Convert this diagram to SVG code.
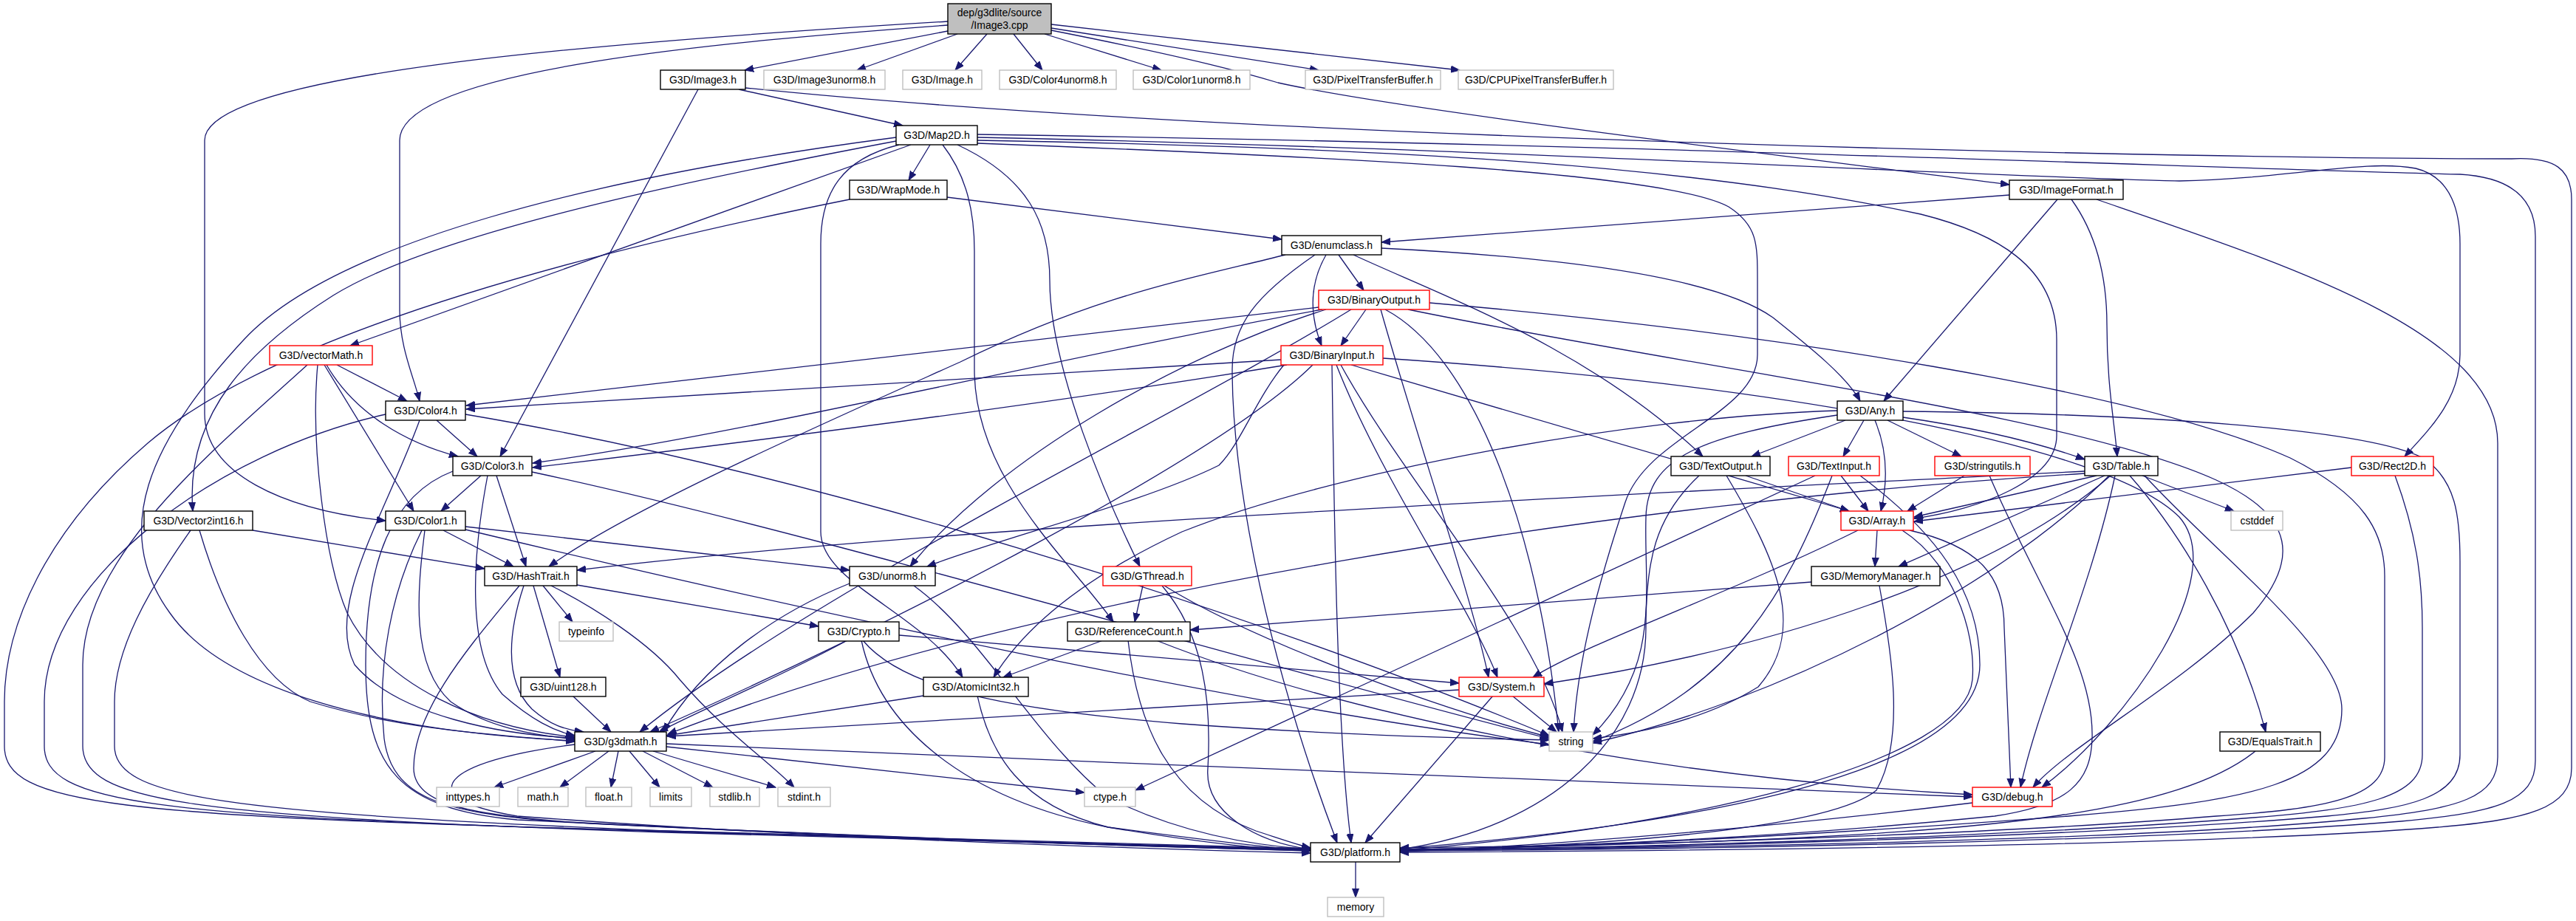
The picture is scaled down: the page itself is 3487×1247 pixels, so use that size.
<svg xmlns="http://www.w3.org/2000/svg" width="3487" height="1247" viewBox="0 0 3487 1247">
<style>
.e{fill:none;stroke:#191970;stroke-width:1.3;marker-end:url(#ah)}
.n{fill:#fff;stroke:#000;stroke-width:1.4}
.r{fill:#fff;stroke:#ff0000;stroke-width:1.4}
.g{fill:#fff;stroke:#bfbfbf;stroke-width:1.4}
.m{fill:#bfbfbf;stroke:#000;stroke-width:1.4}
.t{font-family:"Liberation Sans",Arial,sans-serif;font-size:14px;text-anchor:middle;fill:#000}
</style>
<defs>
<marker id="ah" markerUnits="userSpaceOnUse" markerWidth="14" markerHeight="12" refX="12" refY="5" orient="auto">
<path d="M0,0.5 L12,5 L0,9.5 Z" fill="#191970" stroke="#191970" stroke-width="1"/>
</marker>
</defs>
<rect width="3487" height="1247" fill="#fff"/>
<g id="connectors">
<path class="e" d="M1283,42 L1008,95"/>
<path class="e" d="M1296,46 L1160,95"/>
<path class="e" d="M1336,46 L1293,95"/>
<path class="e" d="M1372,46 L1411,95"/>
<path class="e" d="M1414,46 L1572,95"/>
<path class="e" d="M1423,38 L1785,95"/>
<path class="e" d="M1423,33 L1976,95"/>
<path class="e" d="M1423,41 C1620,80 1690,100 1730,112 C1900,150 2450,215 2720,250"/>
<path class="e" d="M1283,29 C800,58 277,100 277,190 L277,560 C277,640 380,690 522,705"/>
<path class="e" d="M1283,34 C1000,55 541,92 541,190 L541,420 C541,470 560,510 568,543"/>
<path class="e" d="M1000,121 L1222,170"/>
<path class="e" d="M945,121 L677,618"/>
<path class="e" d="M1009,119 C1700,190 3000,215 3400,215 C3460,212 3481,230 3481,270 L3481,1040 C3481,1095 3420,1110 3300,1120 C3000,1145 2300,1152 1895,1154"/>
<path class="e" d="M1259,196 L1230,244"/>
<path class="e" d="M1233,196 L474,468"/>
<path class="e" d="M1213,191 C900,250 580,320 451,400 C340,470 250,560 261,692"/>
<path class="e" d="M1213,186 C800,240 450,330 330,460 C200,600 150,720 230,830 C300,930 500,990 778,1003"/>
<path class="e" d="M1217,196 C1140,215 1111,260 1111,330 L1111,720 C1111,790 1250,830 1303,917"/>
<path class="e" d="M1276,196 C1310,240 1319,290 1319,340 L1319,500 C1319,650 1450,760 1507,842"/>
<path class="e" d="M1296,196 C1390,240 1421,300 1421,380 C1421,500 1500,680 1543,767"/>
<path class="e" d="M1323,186 C2000,200 2700,240 2950,245 C3100,242 3200,215 3270,228 C3320,240 3330,290 3330,330 L3330,480 C3330,540 3290,580 3255,618"/>
<path class="e" d="M1323,182 C2200,195 3000,228 3330,236 C3400,240 3432,270 3432,320 L3432,1030 C3432,1085 3380,1100 3250,1112 C2900,1140 2300,1150 1895,1152"/>
<path class="e" d="M1323,190 C1900,200 2300,225 2600,290 C2700,315 2784,360 2784,460 L2784,590 C2784,650 2680,690 2591,702"/>
<path class="e" d="M1323,194 C1800,212 2250,232 2340,280 C2379,305 2379,330 2379,380 L2379,480 C2379,560 2230,590 2200,680 C2160,800 2135,900 2130,991"/>
<path class="e" d="M1282,267 L1735,324"/>
<path class="e" d="M1150,270 C900,320 400,430 200,600 C60,720 6,850 6,950 L6,1010 C6,1090 150,1105 900,1125 C1300,1135 1600,1145 1774,1149"/>
<path class="e" d="M2720,264 L1870,328"/>
<path class="e" d="M2785,270 L2550,543"/>
<path class="e" d="M2804,270 C2840,320 2852,380 2852,440 C2852,520 2862,570 2866,618"/>
<path class="e" d="M2838,270 C3100,360 3381,450 3381,600 L3381,1025 C3381,1080 3330,1095 3200,1108 C2900,1138 2300,1148 1895,1151"/>
<path class="e" d="M1812,345 L1846,393"/>
<path class="e" d="M1795,345 C1775,380 1770,420 1789,468"/>
<path class="e" d="M1740,345 C1600,380 1484,400 1300,490 C1100,580 850,690 743,767"/>
<path class="e" d="M1832,345 C1950,400 2150,470 2305,618"/>
<path class="e" d="M1870,336 C2150,350 2330,380 2400,430 C2450,470 2500,510 2518,543"/>
<path class="e" d="M1780,345 C1700,400 1668,440 1668,500 C1668,620 1700,850 1810,1141"/>
<path class="e" d="M1849,419 L1815,468"/>
<path class="e" d="M1785,416 L631,549"/>
<path class="e" d="M1790,419 C1450,480 1000,590 721,627"/>
<path class="e" d="M1795,419 C1600,480 1350,620 1232,767"/>
<path class="e" d="M1829,419 C1600,560 1100,800 866,991"/>
<path class="e" d="M1869,419 C1920,600 1990,800 2015,917"/>
<path class="e" d="M1875,419 C1990,480 2080,700 2110,991"/>
<path class="e" d="M1906,419 C2300,500 2800,560 3000,650 C3110,700 3110,760 3050,830 C2950,930 2800,1010 2752,1066"/>
<path class="e" d="M1935,410 C2400,450 2900,530 3100,620 C3200,670 3228,720 3228,780 L3228,1025 C3228,1080 3150,1095 3000,1105 C2700,1130 2200,1145 1895,1148"/>
<path class="e" d="M1734,487 L631,554"/>
<path class="e" d="M1742,494 C1400,550 1000,600 721,633"/>
<path class="e" d="M1738,494 C1700,540 1680,600 1650,630 C1550,680 1350,730 1255,767"/>
<path class="e" d="M1777,494 C1650,620 1200,850 880,991"/>
<path class="e" d="M1803,494 C1806,700 1810,1000 1829,1141"/>
<path class="e" d="M1809,494 C1870,650 1990,820 2027,917"/>
<path class="e" d="M1815,494 C1900,650 2080,850 2115,991"/>
<path class="e" d="M1829,494 L2503,692"/>
<path class="e" d="M1872,485 C2400,520 2850,600 2950,700 C3020,780 2880,980 2764,1066"/>
<path class="e" d="M456,494 L551,543"/>
<path class="e" d="M442,494 C480,560 550,600 620,618"/>
<path class="e" d="M439,494 L560,692"/>
<path class="e" d="M430,494 C420,600 440,760 470,830 C520,930 650,985 778,998"/>
<path class="e" d="M416,494 C300,600 112,750 112,900 L112,1010 C112,1085 250,1105 900,1127 C1300,1140 1600,1147 1774,1151"/>
<path class="e" d="M591,569 L646,618"/>
<path class="e" d="M522,561 C300,610 60,780 60,950 L60,1010 C60,1088 200,1105 900,1126 C1300,1138 1600,1146 1774,1150"/>
<path class="e" d="M568,569 C520,700 440,820 480,900 C540,970 680,995 778,999"/>
<path class="e" d="M630,561 C1100,640 1700,830 2097,996"/>
<path class="e" d="M651,644 L597,692"/>
<path class="e" d="M672,644 L712,767"/>
<path class="e" d="M720,639 C1100,720 1700,900 2097,1000"/>
<path class="e" d="M613,638 C530,670 495,760 495,900 C495,1040 540,1095 700,1110 C1100,1130 1500,1145 1774,1152"/>
<path class="e" d="M660,644 C640,750 630,880 680,940 C720,975 750,990 778,996"/>
<path class="e" d="M600,718 L695,767"/>
<path class="e" d="M630,713 L1150,772"/>
<path class="e" d="M630,717 C1100,830 1700,960 2097,1008"/>
<path class="e" d="M571,718 C530,800 510,900 520,1000 C530,1080 600,1100 750,1112 C1100,1130 1500,1145 1774,1150"/>
<path class="e" d="M575,718 C565,800 555,900 610,950 C660,985 720,995 778,1001"/>
<path class="e" d="M342,718 L656,770"/>
<path class="e" d="M270,718 C300,820 350,920 420,950 C550,990 680,995 778,1004"/>
<path class="e" d="M258,718 C200,800 155,880 155,950 L155,1010 C155,1080 300,1100 900,1125 C1300,1138 1600,1146 1774,1152"/>
<path class="e" d="M709,793 C690,850 680,920 720,960 C745,982 765,988 790,991"/>
<path class="e" d="M703,793 C640,870 560,960 560,1040 C560,1090 640,1105 800,1115 C1150,1132 1500,1146 1774,1151"/>
<path class="e" d="M722,793 L758,917"/>
<path class="e" d="M735,793 L775,842"/>
<path class="e" d="M746,793 C800,820 880,870 920,920 C980,990 1040,1030 1075,1066"/>
<path class="e" d="M781,792 L1108,848"/>
<path class="e" d="M775,942 L827,991"/>
<path class="e" d="M806,1017 L669,1066"/>
<path class="e" d="M824,1017 L758,1066"/>
<path class="e" d="M837,1017 L827,1066"/>
<path class="e" d="M852,1017 L893,1066"/>
<path class="e" d="M870,1017 L965,1066"/>
<path class="e" d="M884,1017 L1050,1066"/>
<path class="e" d="M902,1011 L1468,1073"/>
<path class="e" d="M902,1007 C1500,1035 2300,1060 2670,1079"/>
<path class="e" d="M778,1008 C600,1030 550,1080 700,1105 C1100,1135 1500,1148 1774,1155"/>
<path class="e" d="M1147,867 C1050,920 950,960 892,991"/>
<path class="e" d="M1166,867 C1190,980 1300,1080 1500,1120 C1650,1140 1720,1148 1774,1152"/>
<path class="e" d="M1168,867 C1220,930 1350,960 1600,980 C1800,995 2000,1000 2097,1002"/>
<path class="e" d="M1217,860 L1975,925"/>
<path class="e" d="M1250,942 L902,996"/>
<path class="e" d="M1323,942 C1340,1020 1380,1090 1500,1120 C1650,1145 1720,1150 1774,1152"/>
<path class="e" d="M1493,867 L1358,917"/>
<path class="e" d="M1527,867 C1540,980 1580,1080 1700,1125 C1740,1138 1760,1145 1774,1148"/>
<path class="e" d="M1565,867 C1800,960 2200,1050 2670,1076"/>
<path class="e" d="M1547,793 L1536,842"/>
<path class="e" d="M1573,793 C1630,860 1640,950 1635,1040 C1630,1100 1700,1140 1774,1150"/>
<path class="e" d="M1576,793 C1700,870 1950,960 2097,998"/>
<path class="e" d="M1150,790 C1050,830 950,900 898,991"/>
<path class="e" d="M1237,793 C1330,860 1400,1000 1500,1080 C1600,1130 1700,1145 1774,1150"/>
<path class="e" d="M2498,569 L2371,618"/>
<path class="e" d="M2523,569 L2495,618"/>
<path class="e" d="M2538,569 C2555,610 2556,650 2546,692"/>
<path class="e" d="M2555,569 L2655,618"/>
<path class="e" d="M2576,565 C2680,580 2760,600 2822,622"/>
<path class="e" d="M2576,557 C2900,560 3200,580 3280,620 C3325,650 3330,700 3330,760 L3330,1022 C3330,1080 3260,1095 3150,1105 C2800,1135 2200,1148 1895,1152"/>
<path class="e" d="M2487,562 C2300,590 2230,620 2228,700 C2225,800 2250,900 2156,995"/>
<path class="e" d="M2487,556 C2200,565 1800,640 1600,720 C1450,790 1380,860 1345,917"/>
<path class="e" d="M2363,644 L2503,692"/>
<path class="e" d="M2300,644 C2240,700 2228,760 2228,850 C2228,1000 2100,1120 1895,1150"/>
<path class="e" d="M2337,644 C2400,750 2450,850 2380,930 C2300,980 2200,995 2156,1000"/>
<path class="e" d="M2492,644 L2529,692"/>
<path class="e" d="M2457,644 L1537,1070"/>
<path class="e" d="M2480,644 C2420,800 2350,930 2156,1004"/>
<path class="e" d="M2518,644 C2620,720 2680,800 2680,900 C2680,1000 2500,1100 1895,1149"/>
<path class="e" d="M2659,644 L2582,692"/>
<path class="e" d="M2693,644 C2760,800 2835,900 2832,1000 C2830,1060 2800,1090 2700,1105 C2400,1135 2100,1148 1895,1150"/>
<path class="e" d="M2900,644 L3024,692"/>
<path class="e" d="M2883,644 C2950,720 3030,850 3067,991"/>
<path class="e" d="M2838,644 L2591,700"/>
<path class="e" d="M2822,638 C2200,670 1300,710 781,772"/>
<path class="e" d="M2849,644 L2570,767"/>
<path class="e" d="M2857,644 C2700,780 2400,880 2090,926"/>
<path class="e" d="M2863,644 C2830,800 2760,950 2735,1066"/>
<path class="e" d="M2822,641 C2200,680 1400,800 904,994"/>
<path class="e" d="M2855,644 C2700,800 2400,950 2156,1006"/>
<path class="e" d="M2903,644 C3000,750 3170,880 3170,960 C3170,1060 3050,1085 2800,1105 C2400,1135 2100,1148 1895,1150"/>
<path class="e" d="M3183,633 L2591,706"/>
<path class="e" d="M3242,644 C3270,720 3279,780 3279,850 L3279,1022 C3279,1080 3200,1095 3050,1107 C2700,1135 2200,1148 1895,1150"/>
<path class="e" d="M2541,718 L2538,767"/>
<path class="e" d="M2515,718 C2350,800 2150,870 2075,917"/>
<path class="e" d="M2585,718 C2680,740 2713,780 2713,850 L2722,1066"/>
<path class="e" d="M2575,718 C2640,760 2675,850 2670,920 C2660,1030 2300,1120 1895,1151"/>
<path class="e" d="M2452,788 L1611,853"/>
<path class="e" d="M2544,793 C2560,880 2580,1000 2540,1070 C2480,1120 2200,1145 1895,1152"/>
<path class="e" d="M1975,934 L903,997"/>
<path class="e" d="M2021,942 L1848,1141"/>
<path class="e" d="M2047,942 L2107,991"/>
<path class="e" d="M3053,1017 C2950,1100 2700,1125 2300,1140 C2100,1147 1950,1150 1895,1152"/>
<path class="e" d="M2670,1087 C2400,1120 2100,1145 1895,1153"/>
<path class="e" d="M1835,1167 L1835,1215"/>
</g>
<g id="main"><rect class="m" x="1283" y="5" width="140" height="41"/><text class="t" x="1353" y="22">dep/g3dlite/source</text><text class="t" x="1353" y="39">/Image3.cpp</text></g>
<g id="Image3h"><rect class="n" x="894" y="95" width="115" height="26"/><text class="t" x="951.5" y="113">G3D/Image3.h</text></g>
<g id="Image3unorm8"><rect class="g" x="1034" y="95" width="164" height="26"/><text class="t" x="1116" y="113">G3D/Image3unorm8.h</text></g>
<g id="Image"><rect class="g" x="1222" y="95" width="107" height="26"/><text class="t" x="1275.5" y="113">G3D/Image.h</text></g>
<g id="Color4unorm8"><rect class="g" x="1353" y="95" width="158" height="26"/><text class="t" x="1432" y="113">G3D/Color4unorm8.h</text></g>
<g id="Color1unorm8"><rect class="g" x="1534" y="95" width="158" height="26"/><text class="t" x="1613" y="113">G3D/Color1unorm8.h</text></g>
<g id="PixelTransferBuffer"><rect class="g" x="1767" y="95" width="183" height="26"/><text class="t" x="1858.5" y="113">G3D/PixelTransferBuffer.h</text></g>
<g id="CPUPixelTransferBuffer"><rect class="g" x="1974" y="95" width="210" height="26"/><text class="t" x="2079" y="113">G3D/CPUPixelTransferBuffer.h</text></g>
<g id="Map2D"><rect class="n" x="1213" y="170" width="110" height="26"/><text class="t" x="1268" y="188">G3D/Map2D.h</text></g>
<g id="WrapMode"><rect class="n" x="1150" y="244" width="132" height="26"/><text class="t" x="1216" y="262">G3D/WrapMode.h</text></g>
<g id="ImageFormat"><rect class="n" x="2720" y="244" width="154" height="26"/><text class="t" x="2797" y="262">G3D/ImageFormat.h</text></g>
<g id="enumclass"><rect class="n" x="1735" y="319" width="135" height="26"/><text class="t" x="1802.5" y="337">G3D/enumclass.h</text></g>
<g id="BinaryOutput"><rect class="r" x="1785" y="393" width="150" height="26"/><text class="t" x="1860" y="411">G3D/BinaryOutput.h</text></g>
<g id="vectorMath"><rect class="r" x="365" y="468" width="139" height="26"/><text class="t" x="434.5" y="486">G3D/vectorMath.h</text></g>
<g id="BinaryInput"><rect class="r" x="1734" y="468" width="138" height="26"/><text class="t" x="1803" y="486">G3D/BinaryInput.h</text></g>
<g id="Color4"><rect class="n" x="522" y="543" width="108" height="26"/><text class="t" x="576" y="561">G3D/Color4.h</text></g>
<g id="Any"><rect class="n" x="2487" y="543" width="89" height="26"/><text class="t" x="2531.5" y="561">G3D/Any.h</text></g>
<g id="Color3"><rect class="n" x="613" y="618" width="107" height="26"/><text class="t" x="666.5" y="636">G3D/Color3.h</text></g>
<g id="TextOutput"><rect class="n" x="2262" y="618" width="134" height="26"/><text class="t" x="2329" y="636">G3D/TextOutput.h</text></g>
<g id="TextInput"><rect class="r" x="2421" y="618" width="123" height="26"/><text class="t" x="2482.5" y="636">G3D/TextInput.h</text></g>
<g id="stringutils"><rect class="r" x="2619" y="618" width="129" height="26"/><text class="t" x="2683.5" y="636">G3D/stringutils.h</text></g>
<g id="Table"><rect class="n" x="2822" y="618" width="99" height="26"/><text class="t" x="2871.5" y="636">G3D/Table.h</text></g>
<g id="Rect2D"><rect class="r" x="3183" y="618" width="111" height="26"/><text class="t" x="3238.5" y="636">G3D/Rect2D.h</text></g>
<g id="Vector2int16"><rect class="n" x="195" y="692" width="147" height="26"/><text class="t" x="268.5" y="710">G3D/Vector2int16.h</text></g>
<g id="Color1"><rect class="n" x="522" y="692" width="108" height="26"/><text class="t" x="576" y="710">G3D/Color1.h</text></g>
<g id="Array"><rect class="r" x="2492" y="692" width="98" height="26"/><text class="t" x="2541" y="710">G3D/Array.h</text></g>
<g id="cstddef"><rect class="g" x="3020" y="692" width="70" height="26"/><text class="t" x="3055" y="710">cstddef</text></g>
<g id="HashTrait"><rect class="n" x="656" y="767" width="125" height="26"/><text class="t" x="718.5" y="785">G3D/HashTrait.h</text></g>
<g id="unorm8"><rect class="n" x="1150" y="767" width="116" height="26"/><text class="t" x="1208" y="785">G3D/unorm8.h</text></g>
<g id="GThread"><rect class="r" x="1493" y="767" width="120" height="26"/><text class="t" x="1553" y="785">G3D/GThread.h</text></g>
<g id="MemoryManager"><rect class="n" x="2452" y="767" width="174" height="26"/><text class="t" x="2539" y="785">G3D/MemoryManager.h</text></g>
<g id="typeinfo"><rect class="g" x="757" y="842" width="73" height="26"/><text class="t" x="793.5" y="860">typeinfo</text></g>
<g id="Crypto"><rect class="n" x="1108" y="842" width="109" height="26"/><text class="t" x="1162.5" y="860">G3D/Crypto.h</text></g>
<g id="ReferenceCount"><rect class="n" x="1445" y="842" width="166" height="26"/><text class="t" x="1528" y="860">G3D/ReferenceCount.h</text></g>
<g id="uint128"><rect class="n" x="705" y="917" width="115" height="26"/><text class="t" x="762.5" y="935">G3D/uint128.h</text></g>
<g id="AtomicInt32"><rect class="n" x="1250" y="917" width="142" height="26"/><text class="t" x="1321" y="935">G3D/AtomicInt32.h</text></g>
<g id="System"><rect class="r" x="1975" y="917" width="115" height="26"/><text class="t" x="2032.5" y="935">G3D/System.h</text></g>
<g id="g3dmath"><rect class="n" x="778" y="991" width="124" height="26"/><text class="t" x="840" y="1009">G3D/g3dmath.h</text></g>
<g id="string"><rect class="g" x="2097" y="991" width="59" height="26"/><text class="t" x="2126.5" y="1009">string</text></g>
<g id="EqualsTrait"><rect class="n" x="3005" y="991" width="136" height="26"/><text class="t" x="3073" y="1009">G3D/EqualsTrait.h</text></g>
<g id="inttypes"><rect class="g" x="591" y="1066" width="85" height="26"/><text class="t" x="633.5" y="1084">inttypes.h</text></g>
<g id="math"><rect class="g" x="701" y="1066" width="68" height="26"/><text class="t" x="735" y="1084">math.h</text></g>
<g id="float"><rect class="g" x="793" y="1066" width="62" height="26"/><text class="t" x="824" y="1084">float.h</text></g>
<g id="limits"><rect class="g" x="880" y="1066" width="56" height="26"/><text class="t" x="908" y="1084">limits</text></g>
<g id="stdlib"><rect class="g" x="961" y="1066" width="67" height="26"/><text class="t" x="994.5" y="1084">stdlib.h</text></g>
<g id="stdint"><rect class="g" x="1053" y="1066" width="71" height="26"/><text class="t" x="1088.5" y="1084">stdint.h</text></g>
<g id="ctype"><rect class="g" x="1468" y="1066" width="69" height="26"/><text class="t" x="1502.5" y="1084">ctype.h</text></g>
<g id="debug"><rect class="r" x="2670" y="1066" width="108" height="26"/><text class="t" x="2724" y="1084">G3D/debug.h</text></g>
<g id="platform"><rect class="n" x="1774" y="1141" width="121" height="26"/><text class="t" x="1834.5" y="1159">G3D/platform.h</text></g>
<g id="memory"><rect class="g" x="1797" y="1215" width="76" height="26"/><text class="t" x="1835" y="1233">memory</text></g>
</svg>
